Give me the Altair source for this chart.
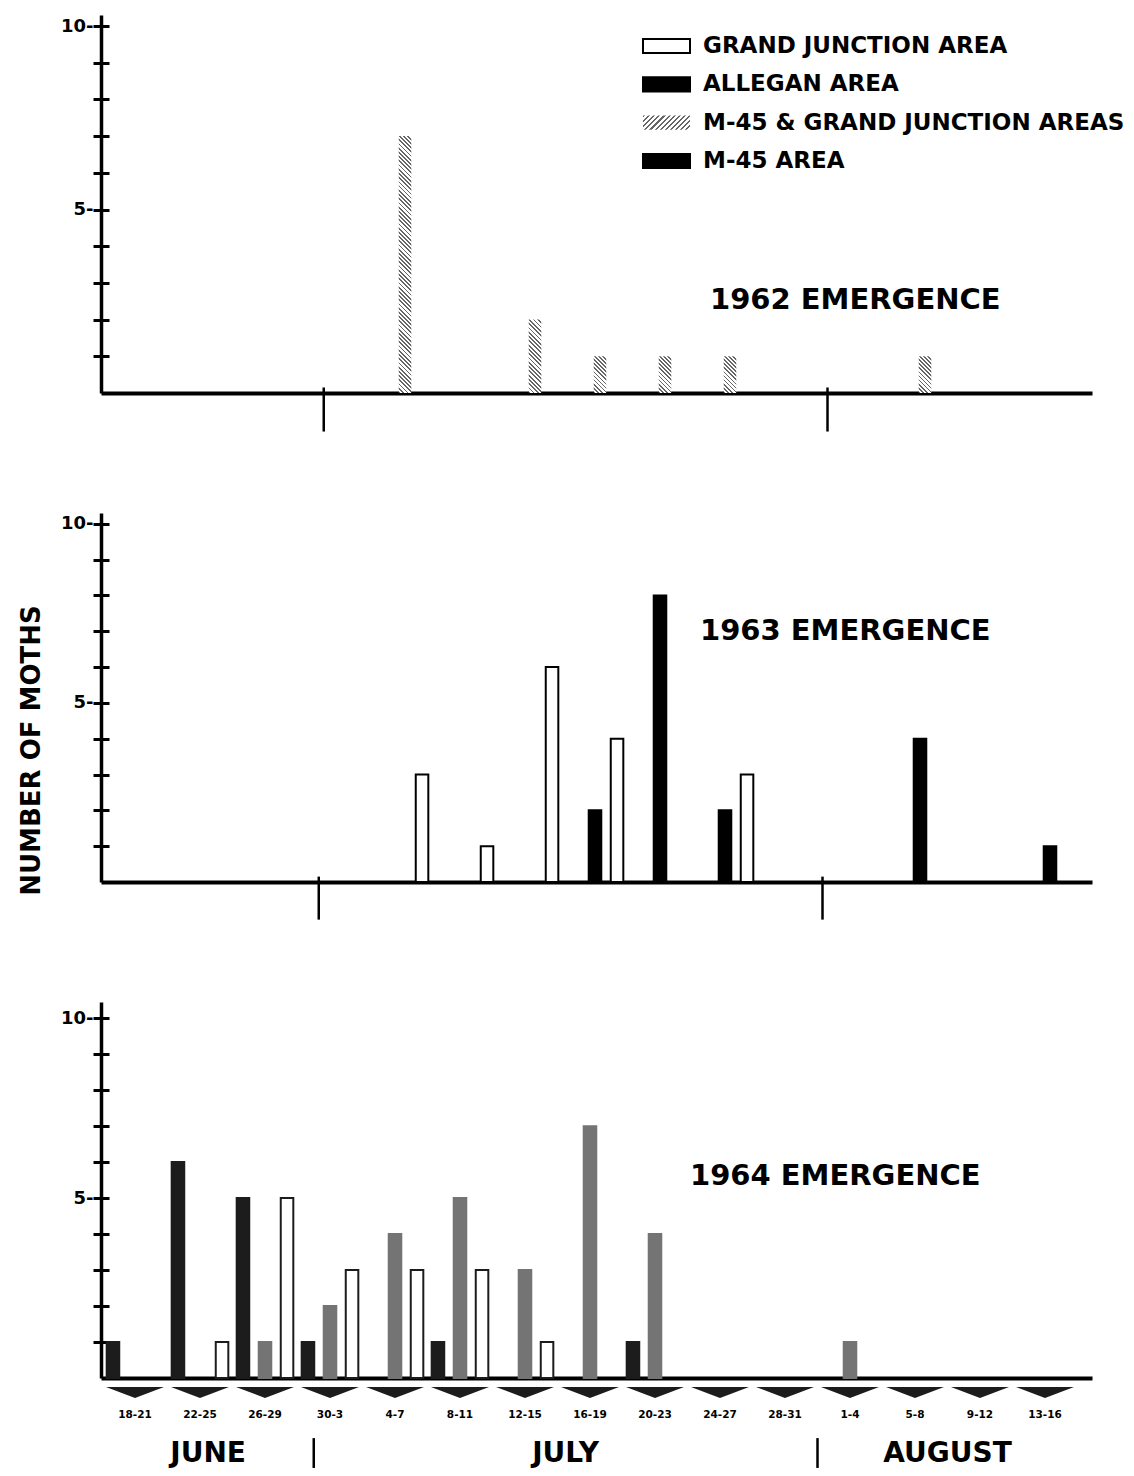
import altair as alt
import pandas as pd

# ---------------- data ----------------
periods = ["18-21", "22-25", "26-29", "30-3", "4-7", "8-11", "12-15", "16-19",
           "20-23", "24-27", "28-31", "1-4", "5-8", "9-12", "13-16"]
areas = ["ALLEGAN AREA", "M-45 AREA", "GRAND JUNCTION AREA"]  # bar slots, left to right
HATCH = "M-45 & GRAND JUNCTION AREAS"
legend_labels = ["GRAND JUNCTION AREA", "ALLEGAN AREA", HATCH, "M-45 AREA"]
panel_titles = ["1962 EMERGENCE", "1963 EMERGENCE", "1964 EMERGENCE"]
months = ["JUNE", "JULY", "AUGUST"]
season_start = "06-18"
month_starts = ["07-01", "08-01"]
days_per_period = 4
y_tick_values = list(range(1, 11))

m45gj_1962_periods = ["4-7", "12-15", "16-19", "20-23", "24-27", "5-8"]
m45gj_1962_counts = [7, 2, 1, 1, 1, 1]

gj_1963_periods = ["4-7", "8-11", "12-15", "16-19", "24-27"]
gj_1963_counts = [3, 1, 6, 4, 3]
m45_1963_periods = ["16-19", "20-23", "24-27", "5-8", "13-16"]
m45_1963_counts = [2, 8, 2, 4, 1]

allegan_1964_periods = ["18-21", "22-25", "26-29", "30-3", "8-11", "20-23"]
allegan_1964_counts = [1, 6, 5, 1, 1, 1]
m45_1964_periods = ["26-29", "30-3", "4-7", "8-11", "12-15", "16-19", "20-23", "1-4"]
m45_1964_counts = [1, 2, 4, 5, 3, 7, 4, 1]
gj_1964_periods = ["22-25", "26-29", "30-3", "4-7", "8-11", "12-15"]
gj_1964_counts = [1, 5, 3, 3, 3, 1]


def frame(area, per, cnt):
    return pd.DataFrame({"area": area, "period": per, "count": cnt})


df62 = frame(HATCH, m45gj_1962_periods, m45gj_1962_counts)
df63 = pd.concat([frame("GRAND JUNCTION AREA", gj_1963_periods, gj_1963_counts),
                  frame("M-45 AREA", m45_1963_periods, m45_1963_counts)])
df64 = pd.concat([frame("ALLEGAN AREA", allegan_1964_periods, allegan_1964_counts),
                  frame("M-45 AREA", m45_1964_periods, m45_1964_counts),
                  frame("GRAND JUNCTION AREA", gj_1964_periods, gj_1964_counts)])


def day_of(mmdd):
    return (pd.Timestamp("1962-" + mmdd) - pd.Timestamp("1962-" + season_start)).days


boundary_days = [day_of(m) for m in month_starts]
season_days = len(periods) * days_per_period
edges = [0] + boundary_days + [season_days]
month_df = pd.DataFrame({"month": months,
                         "mid": [(a + b) / 2 for a, b in zip(edges[:-1], edges[1:])]})
bound_df = pd.DataFrame({"day": boundary_days})
period_df = pd.DataFrame({"period": periods})

# ---------------- layout ----------------
FONT = "DejaVu Sans"
W = 991
STEP = 65
SPAN = STEP * len(periods)
EXTRA = W - SPAN
H = [378, 369, 376]
YMAX = [10.3, 10.3, 10.45]
X0 = [11.5, 6.5, 1.5]
OFF_PI, OFF_PO = 0.43, 0.19
off_step = STEP / (3 - OFF_PI + 2 * OFF_PO)
bar_w = off_step * (1 - OFF_PI)


def xb(i):
    return alt.Scale(type="band", domain=periods, paddingInner=0, paddingOuter=EXTRA / (2 * STEP),
                     align=X0[i] / EXTRA)


def xd(i):
    return alt.Scale(domain=[0, season_days], range=[X0[i], X0[i] + SPAN])


def ys(i):
    return alt.Scale(domain=[0, YMAX[i]], nice=False)


def xo(dom):
    return alt.Scale(domain=dom, paddingInner=OFF_PI, paddingOuter=OFF_PO)


def hatch(w, h, spacing, dark_frac, dark, light, rising):
    r = h / w
    s = (1 + r) / (1 + r * r)
    if rising:
        x1, y1, x2, y2 = 0.0, 0.0, s, s * r
    else:
        x1, y1, x2, y2 = 0.0, 1.0, s, 1.0 - s * r
    n = max(1, int(round((w + h) / spacing)))
    stops = []
    for k in range(n):
        a, b, c = k / n, (k + dark_frac) / n, (k + 1) / n
        stops += [alt.GradientStop(color=dark, offset=a), alt.GradientStop(color=dark, offset=b),
                  alt.GradientStop(color=light, offset=b), alt.GradientStop(color=light, offset=c)]
    return alt.LinearGradient(gradient="linear", stops=stops, x1=x1, y1=y1, x2=x2, y2=y2)


def main_y_axis(title=None, title_y=0):
    kw = dict(orient="left", values=y_tick_values,
              labelExpr="datum.value == 5 || datum.value == 10 ? datum.label + '-' : ''",
              tickSize=8, tickWidth=3, tickColor="black", domainWidth=3.5, domainColor="black",
              labelFont=FONT, labelFontSize=18, labelFontWeight="bold", labelColor="black",
              labelPadding=0, labelOverlap=False, grid=False)
    if title:
        kw.update(title=title, titleFont=FONT, titleFontSize=26, titleFontWeight="bold",
                  titleColor="black", titleAngle=270, titleX=-70, titleY=title_y,
                  titleBaseline="middle", titleAlign="center")
    else:
        kw["title"] = None
    return alt.Axis(**kw)


def x_axis(labels):
    kw = dict(domain=True, domainWidth=4, domainColor="black", ticks=False, tickSize=0,
              grid=False, title=None, labels=labels)
    if labels:
        kw.update(labelPadding=31, labelFont=FONT, labelFontSize=10.5, labelFontWeight="bold",
                  labelColor="black", labelAngle=0)
    return alt.Axis(**kw)


def inner_ticks(i):
    return alt.Chart(pd.DataFrame({"v": y_tick_values})).mark_rule(opacity=0).encode(
        y=alt.Y("v:Q", scale=ys(i),
                axis=alt.Axis(orient="left", offset=-8, values=y_tick_values, tickSize=8,
                              tickWidth=3, tickColor="black", domain=False, labels=False,
                              grid=False, title=None)))


def month_ticks(i, top, bottom):
    return alt.Chart(bound_df).mark_rule(color="black", strokeWidth=2.5).encode(
        x=alt.X("day:Q", scale=xd(i), axis=None),
        y=alt.YDatum(top, scale=ys(i), axis=None),
        y2=alt.Y2Datum(bottom))


def title_layer(i, px, py):
    return alt.Chart(pd.DataFrame({"t": [panel_titles[i]]})).mark_text(
        align="left", baseline="middle", font=FONT, fontSize=29, fontWeight="bold",
        color="black").encode(x=alt.value(px), y=alt.value(py), text="t:N")


# ---------------- 1962 panel ----------------
px_unit0 = H[0] / YMAX[0]
layers62 = []
for idx, v in enumerate(sorted(set(m45gj_1962_counts), reverse=True)):
    sub = df62[df62["count"] == v]
    grad = hatch(bar_w, v * px_unit0, 4.2, 0.42, "#666666", "#ffffff", rising=False)
    first = idx == 0
    layers62.append(alt.Chart(sub).mark_bar(fill=grad).encode(
        x=alt.X("period:N", scale=xb(0), axis=x_axis(False) if first else None),
        xOffset=alt.XOffset("area:N", scale=xo([areas[0], HATCH, areas[2]])),
        y=alt.Y("count:Q", scale=ys(0), axis=main_y_axis() if first else None),
    ))

leg_df = pd.DataFrame({"label": legend_labels})
leg_y = alt.Y("label:N", scale=alt.Scale(type="point", domain=legend_labels, range=[31, 146], padding=0),
              axis=None)
rect_path = "M-1,-0.3L1,-0.3L1,0.3L-1,0.3Z"
leg_plain = alt.Chart(leg_df).transform_filter(alt.datum.label != HATCH).mark_point(
    shape=rect_path, size=47 * 47, filled=True, opacity=1, strokeWidth=2).encode(
    x=alt.value(565.5), y=leg_y,
    fill=alt.Fill("label:N", scale=alt.Scale(domain=legend_labels, range=["white", "black", "white", "black"]),
                  legend=None),
    stroke=alt.Stroke("label:N", scale=alt.Scale(domain=legend_labels, range=["black", "black", "white", "black"]),
                      legend=None))
leg_hatch = alt.Chart(leg_df).transform_filter(alt.datum.label == HATCH).mark_point(
    shape=rect_path, size=47 * 47, filled=True, opacity=1, strokeWidth=0,
    fill=hatch(47, 14.1, 5, 0.4, "#666666", "#ffffff", rising=True)).encode(x=alt.value(565.5), y=leg_y)
leg_text = alt.Chart(leg_df).mark_text(align="left", baseline="middle", font=FONT, fontSize=23,
                                        fontWeight="bold", color="black").encode(
    x=alt.value(602), y=leg_y, text="label:N")

p1 = alt.layer(*layers62, month_ticks(0, 0.15, -1.05), inner_ticks(0), title_layer(0, 609, 285),
               leg_plain, leg_hatch, leg_text).resolve_scale(
    x="independent", y="independent", xOffset="independent").properties(width=W, height=H[0])

# ---------------- 1963 panel ----------------
bars63 = alt.Chart(df63).mark_bar(strokeWidth=2).encode(
    x=alt.X("period:N", scale=xb(1), axis=x_axis(False)),
    xOffset=alt.XOffset("area:N", scale=xo(areas)),
    y=alt.Y("count:Q", scale=ys(1), axis=main_y_axis("NUMBER OF MOTHS", 237)),
    fill=alt.Fill("area:N", scale=alt.Scale(domain=areas, range=["black", "black", "white"]), legend=None),
    stroke=alt.Stroke("area:N", scale=alt.Scale(domain=areas, range=["black", "black", "black"]), legend=None),
)
p2 = alt.layer(bars63, month_ticks(1, 0.15, -1.05), inner_ticks(1), title_layer(1, 599, 118)).resolve_scale(
    x="independent", y="independent", xOffset="independent").properties(width=W, height=H[1])

# ---------------- 1964 panel ----------------
bars64 = alt.Chart(df64).mark_bar(strokeWidth=2).encode(
    x=alt.X("period:N", scale=xb(2), axis=x_axis(True)),
    xOffset=alt.XOffset("area:N", scale=xo(areas)),
    y=alt.Y("count:Q", scale=ys(2), axis=main_y_axis()),
    fill=alt.Fill("area:N", scale=alt.Scale(domain=areas, range=["#1c1c1c", "#747474", "white"]), legend=None),
    stroke=alt.Stroke("area:N", scale=alt.Scale(domain=areas, range=["#1c1c1c", "#747474", "#1c1c1c"]),
                      legend=None),
)
tri = alt.Chart(period_df).mark_point(shape="M-1,-0.19L1,-0.19L0,0.19Z", size=58 * 58, filled=True,
                                      opacity=1, color="#1c1c1c", strokeWidth=0).encode(
    x=alt.X("period:N", scale=xb(2), axis=None),
    y=alt.YDatum(-0.4, scale=ys(2), axis=None))
seps = month_ticks(2, -1.67, -2.5)
mlabels = alt.Chart(month_df).mark_text(font=FONT, fontSize=28, fontWeight="bold", color="black",
                                        baseline="middle").encode(
    x=alt.X("mid:Q", scale=xd(2), axis=None),
    y=alt.YDatum(-2.12, scale=ys(2), axis=None),
    text="month:N")
p3 = alt.layer(bars64, tri, seps, mlabels, inner_ticks(2), title_layer(2, 589, 174)).resolve_scale(
    x="independent", y="independent", xOffset="independent").properties(width=W, height=H[2])

chart = alt.vconcat(p1, p2, p3, spacing=120, bounds="flush").resolve_scale(
    fill="independent", stroke="independent").properties(
    padding={"left": 18, "top": 15, "right": 2, "bottom": 2},
    background="white",
).configure(font=FONT).configure_view(stroke=None)

chart.save("out.html", embed_options={"renderer": "svg", "actions": False})
